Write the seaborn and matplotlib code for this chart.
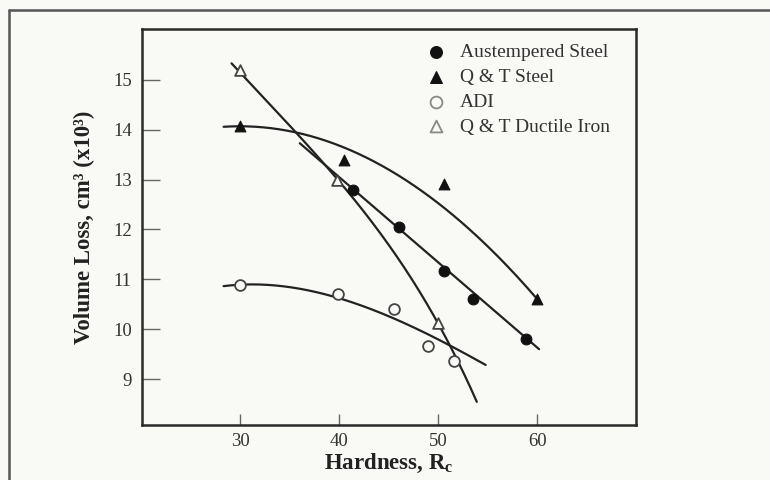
import numpy as np
import pandas as pd
import matplotlib
matplotlib.use("Agg")
import matplotlib.pyplot as plt
from matplotlib.lines import Line2D
import seaborn as sns

# Measured wear data: hardness (Rc) vs. volume loss (cm^3 x10^3)
aus_h = [41.4, 46.0, 50.6, 53.5, 58.9]
aus_v = [12.80, 12.05, 11.17, 10.61, 9.81]

qts_h = [30.0, 40.5, 50.6, 60.0]
qts_v = [14.07, 13.40, 12.91, 10.61]

adi_h = [30.0, 39.9, 45.5, 49.0, 51.6]
adi_v = [10.88, 10.71, 10.40, 9.67, 9.37]

qtdi_h = [30.0, 39.8, 50.0]
qtdi_v = [15.19, 13.00, 10.12]

# Trend curves, given as points along each fitted line
aus_fit_h = [36.0, 60.2]
aus_fit_v = [13.73, 9.60]

qts_fit_h = [28.3, 35.0, 40.0, 45.0, 50.0, 55.0, 60.2]
qts_fit_v = [14.06, 13.97, 13.68, 13.20, 12.53, 11.66, 10.56]

adi_fit_h = [28.3, 30.0, 35.0, 40.0, 45.0, 49.0, 54.8]
adi_fit_v = [10.87, 10.89, 10.83, 10.63, 10.28, 9.87, 9.29]

qtdi_fit_h = [29.1, 32.0, 35.7, 39.8, 42.5, 45.0, 47.5, 50.0, 51.2, 53.9]
qtdi_fit_v = [15.33, 14.72, 13.93, 13.00, 12.35, 11.70, 10.95, 10.12, 9.65, 8.55]

x_ticks = [30, 40, 50, 60]
y_ticks = [9, 10, 11, 12, 13, 14, 15]

labels = ["Austempered Steel", "Q & T Steel", "ADI", "Q & T Ductile Iron"]

sns.set_theme(style="white")
plt.rcParams["font.family"] = ["Liberation Serif", "DejaVu Serif"]
plt.rcParams["mathtext.fontset"] = "custom"
plt.rcParams["mathtext.rm"] = "Liberation Serif"
plt.rcParams["mathtext.bf"] = "Liberation Serif:bold"
plt.rcParams["mathtext.it"] = "Liberation Serif:italic"

bg = "#f9f9f6"
ink = "#222222"

fig = plt.figure(figsize=(7.7, 4.8), dpi=100, facecolor=bg)
ax = fig.add_axes([0.1838, 0.1146, 0.6422, 0.825], facecolor=bg)


def smooth(h, v, deg):
    coef = np.polyfit(h, v, deg)
    xs = np.linspace(min(h), max(h), 200)
    return pd.DataFrame({"h": xs, "v": np.polyval(coef, xs)})


line_kw = dict(color=ink, linewidth=1.6, legend=False, ax=ax, zorder=2)
sns.lineplot(data=pd.DataFrame({"h": aus_fit_h, "v": aus_fit_v}), x="h", y="v", **line_kw)
sns.lineplot(data=smooth(qts_fit_h, qts_fit_v, 2), x="h", y="v", **line_kw)
sns.lineplot(data=smooth(adi_fit_h, adi_fit_v, 3), x="h", y="v", **line_kw)
sns.lineplot(data=smooth(qtdi_fit_h, qtdi_fit_v, 4), x="h", y="v", **line_kw)

ms = 60
sns.scatterplot(x=aus_h, y=aus_v, marker="o", s=ms, color="#111111",
                edgecolor="#111111", linewidth=0.8, ax=ax, label=labels[0], zorder=4)
sns.scatterplot(x=qts_h, y=qts_v, marker="^", s=ms, color="#111111",
                edgecolor="#111111", linewidth=0.8, ax=ax, label=labels[1], zorder=4)
sns.scatterplot(x=adi_h, y=adi_v, marker="o", s=ms, color=bg,
                edgecolor="#444444", linewidth=1.3, ax=ax, label=labels[2], zorder=4)
sns.scatterplot(x=qtdi_h, y=qtdi_v, marker="^", s=ms, color=bg,
                edgecolor="#444444", linewidth=1.3, ax=ax, label=labels[3], zorder=4)

ax.set_xlim(20, 70)
ax.set_ylim(8.08, 16.02)
ax.set_xticks(x_ticks)
ax.set_yticks(y_ticks)
ax.set_xticklabels([str(t) for t in x_ticks])
ax.set_yticklabels([str(t) for t in y_ticks])

ax.tick_params(axis="x", direction="in", length=8, width=1.0, color="#666666",
               labelsize=13.5, labelcolor="#333333", pad=6, bottom=True)
ax.tick_params(axis="y", direction="in", length=13, width=1.0, color="#666666",
               labelsize=13.5, labelcolor="#333333", pad=7, left=True)

for sp in ax.spines.values():
    sp.set_visible(True)
    sp.set_color("#2a2a2a")
    sp.set_linewidth(1.8)

ax.set_xlabel(r"Hardness, R$_{\mathbf{c}}$", fontsize=16.5, fontweight="bold", color=ink)
ax.set_ylabel("Volume Loss, cm³ (x10³)", fontsize=16.5, fontweight="bold", color=ink)
ax.xaxis.set_label_coords(0.5, -0.068)
ax.yaxis.set_label_coords(-0.095, 0.5)

leg = ax.legend(loc="upper left", bbox_to_anchor=(0.563, 0.983), frameon=False,
                fontsize=14, handlelength=0.9, handletextpad=0.75,
                labelspacing=0.37, borderaxespad=0.0, markerscale=1.1)
for t in leg.get_texts():
    t.set_color("#333333")
for h, ec in zip(leg.legend_handles, ["#111111", "#111111", "#888888", "#888888"]):
    h.set_edgecolor(ec)

# Outer frame around the figure
fig.add_artist(Line2D([9 / 770, 9 / 770], [0, 1 - 10 / 480], transform=fig.transFigure,
                      color="#555555", linewidth=1.8))
fig.add_artist(Line2D([9 / 770, 1], [1 - 10 / 480, 1 - 10 / 480], transform=fig.transFigure,
                      color="#555555", linewidth=1.8))

fig.savefig("out.png", dpi=100, facecolor=bg)
